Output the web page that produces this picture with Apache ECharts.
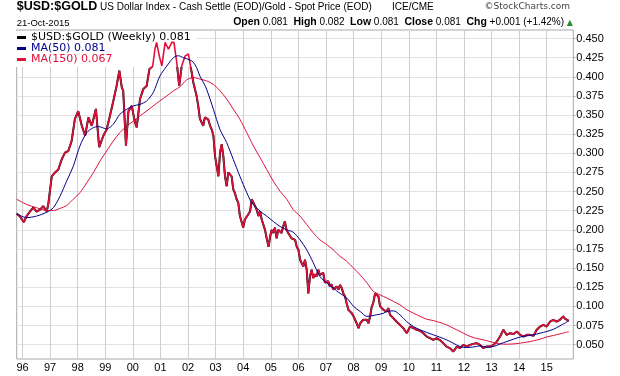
<!DOCTYPE html>
<html><head><meta charset="utf-8">
<script src="https://cdn.jsdelivr.net/npm/echarts@6/dist/echarts.min.js"></script>
<style>html,body{margin:0;padding:0;background:#fff}#c{width:620px;height:376px}</style>
</head><body><div id="c"></div>
<script>
const priceT = [1995.79,1995.90,1996.05,1996.15,1996.27,1996.39,1996.51,1996.63,1996.75,1996.88,1996.94,1997.06,1997.18,1997.30,1997.42,1997.54,1997.66,1997.78,1997.90,1998.02,1998.15,1998.27,1998.39,1998.51,1998.66,1998.78,1998.93,1999.05,1999.17,1999.29,1999.41,1999.51,1999.60,1999.65,1999.75,1999.84,1999.96,2000.08,2000.14,2000.26,2000.38,2000.50,2000.60,2000.72,2000.80,2000.86,2000.96,2001.05,2001.17,2001.29,2001.41,2001.49,2001.59,2001.68,2001.77,2001.89,2002.01,2002.13,2002.19,2002.31,2002.37,2002.43,2002.55,2002.61,2002.73,2002.80,2002.86,2002.92,2002.98,2003.04,2003.10,2003.16,2003.22,2003.28,2003.34,2003.40,2003.46,2003.52,2003.58,2003.64,2003.70,2003.76,2003.82,2003.88,2004.00,2004.06,2004.12,2004.18,2004.25,2004.31,2004.37,2004.43,2004.49,2004.55,2004.61,2004.67,2004.73,2004.79,2004.85,2004.92,2004.98,2005.03,2005.09,2005.15,2005.21,2005.27,2005.33,2005.39,2005.45,2005.51,2005.57,2005.63,2005.69,2005.75,2005.81,2005.88,2005.94,2006.00,2006.06,2006.12,2006.18,2006.24,2006.30,2006.36,2006.42,2006.48,2006.54,2006.60,2006.66,2006.72,2006.78,2006.84,2006.90,2006.96,2007.02,2007.08,2007.14,2007.20,2007.26,2007.33,2007.39,2007.45,2007.51,2007.57,2007.63,2007.69,2007.75,2007.81,2007.87,2007.93,2008.00,2008.05,2008.11,2008.18,2008.24,2008.30,2008.35,2008.42,2008.48,2008.54,2008.60,2008.66,2008.71,2008.78,2008.84,2008.90,2008.96,2009.08,2009.14,2009.20,2009.26,2009.32,2009.44,2009.56,2009.68,2009.80,2009.93,2010.05,2010.17,2010.29,2010.41,2010.53,2010.65,2010.77,2010.89,2011.01,2011.13,2011.25,2011.37,2011.49,2011.61,2011.68,2011.74,2011.86,2011.98,2012.10,2012.22,2012.34,2012.46,2012.58,2012.70,2012.82,2012.95,2013.07,2013.19,2013.31,2013.43,2013.55,2013.67,2013.80,2013.92,2014.04,2014.16,2014.28,2014.40,2014.52,2014.64,2014.76,2014.88,2015.00,2015.12,2015.24,2015.36,2015.48,2015.60,2015.66,2015.72,2015.80];
const priceV = [0.221,0.218,0.210,0.218,0.224,0.229,0.224,0.226,0.231,0.224,0.235,0.270,0.275,0.279,0.292,0.301,0.303,0.316,0.345,0.355,0.336,0.323,0.347,0.336,0.358,0.308,0.323,0.331,0.349,0.368,0.388,0.408,0.386,0.382,0.310,0.355,0.362,0.340,0.334,0.371,0.384,0.388,0.410,0.414,0.436,0.445,0.427,0.414,0.445,0.436,0.445,0.445,0.419,0.388,0.414,0.427,0.430,0.406,0.393,0.375,0.362,0.345,0.336,0.347,0.3445,0.336,0.331,0.323,0.296,0.283,0.270,0.301,0.312,0.296,0.270,0.257,0.275,0.277,0.270,0.253,0.248,0.240,0.2355,0.218,0.203,0.2135,0.212,0.220,0.2244,0.240,0.2355,0.231,0.226,0.218,0.2245,0.2135,0.216,0.200,0.189,0.178,0.192,0.200,0.196,0.203,0.189,0.200,0.201,0.196,0.2045,0.211,0.200,0.196,0.198,0.189,0.189,0.187,0.178,0.174,0.161,0.163,0.152,0.161,0.148,0.117,0.139,0.148,0.137,0.142,0.139,0.148,0.141,0.139,0.144,0.131,0.130,0.133,0.126,0.129,0.122,0.124,0.126,0.122,0.128,0.124,0.117,0.113,0.104,0.0956,0.094,0.0912,0.087,0.087,0.078,0.0716,0.078,0.077,0.0825,0.081,0.0825,0.078,0.087,0.100,0.104,0.117,0.115,0.113,0.100,0.0956,0.097,0.0933,0.0978,0.089,0.0847,0.080,0.0759,0.0716,0.065,0.0737,0.0716,0.0694,0.068,0.065,0.0606,0.0585,0.0563,0.0585,0.056,0.052,0.0475,0.0455,0.041,0.044,0.0475,0.0455,0.0497,0.0475,0.0497,0.051,0.052,0.0497,0.0455,0.0475,0.0475,0.0497,0.054,0.0606,0.0694,0.0628,0.065,0.064,0.0672,0.0628,0.0606,0.0628,0.0628,0.0615,0.0694,0.0737,0.0759,0.0737,0.080,0.0825,0.080,0.0825,0.087,0.084,0.0825,0.081];
const ma50T = [1995.79,1996.15,1996.51,1996.88,1997.12,1997.36,1997.60,1997.84,1998.08,1998.33,1998.57,1998.75,1999.05,1999.29,1999.53,1999.78,2000.02,2000.26,2000.50,2000.74,2000.98,2001.23,2001.47,2001.65,2001.83,2002.07,2002.19,2002.31,2002.43,2002.55,2002.67,2002.92,2003.16,2003.40,2003.64,2003.88,2004.13,2004.31,2004.61,2004.85,2005.09,2005.33,2005.58,2005.81,2006.06,2006.30,2006.54,2006.78,2007.02,2007.26,2007.51,2007.75,2008.00,2008.24,2008.48,2008.66,2008.84,2009.08,2009.20,2009.44,2009.68,2009.93,2010.17,2010.41,2010.65,2010.89,2011.13,2011.37,2011.61,2011.86,2012.10,2012.34,2012.58,2012.82,2013.07,2013.31,2013.55,2013.80,2014.04,2014.28,2014.52,2014.76,2015.00,2015.24,2015.48,2015.80];
const ma50V = [0.221,0.216,0.218,0.223,0.229,0.244,0.2637,0.283,0.3095,0.327,0.3336,0.335,0.332,0.338,0.351,0.3576,0.362,0.364,0.3685,0.3795,0.401,0.414,0.425,0.4275,0.425,0.422,0.419,0.412,0.401,0.393,0.384,0.3576,0.331,0.314,0.292,0.270,0.2485,0.2355,0.2244,0.218,0.211,0.2045,0.200,0.197,0.187,0.174,0.157,0.139,0.131,0.124,0.117,0.111,0.100,0.0933,0.087,0.0877,0.089,0.091,0.0933,0.0942,0.089,0.080,0.0737,0.0694,0.066,0.0628,0.0598,0.0563,0.052,0.0475,0.0462,0.047,0.0484,0.0467,0.0475,0.051,0.054,0.0572,0.060,0.0615,0.0628,0.065,0.0672,0.070,0.0746,0.081];
const ma150T = [1995.79,1996.15,1996.51,1996.88,1997.12,1997.36,1997.60,1997.84,1998.08,1998.33,1998.57,1998.81,1999.05,1999.29,1999.53,1999.78,2000.02,2000.26,2000.50,2000.74,2000.98,2001.23,2001.47,2001.71,2001.95,2002.19,2002.43,2002.67,2002.92,2003.16,2003.40,2003.64,2003.88,2004.13,2004.37,2004.61,2004.85,2005.09,2005.33,2005.58,2005.81,2006.06,2006.30,2006.54,2006.78,2007.02,2007.26,2007.51,2007.75,2008.00,2008.24,2008.48,2008.71,2008.96,2009.20,2009.44,2009.68,2009.93,2010.17,2010.41,2010.65,2010.89,2011.13,2011.37,2011.61,2011.86,2012.10,2012.34,2012.58,2012.82,2013.07,2013.31,2013.55,2013.80,2014.04,2014.28,2014.52,2014.76,2015.00,2015.24,2015.48,2015.80];
const ma150V = [0.240,0.2332,0.229,0.2253,0.2253,0.228,0.2318,0.240,0.2485,0.2616,0.2747,0.290,0.303,0.316,0.327,0.3357,0.342,0.349,0.3554,0.362,0.3685,0.375,0.3816,0.387,0.396,0.399,0.397,0.3947,0.390,0.3816,0.371,0.3576,0.3445,0.327,0.3095,0.2944,0.279,0.2637,0.2506,0.240,0.2266,0.218,0.207,0.196,0.187,0.181,0.174,0.1654,0.159,0.150,0.141,0.131,0.120,0.115,0.111,0.1065,0.102,0.0956,0.0912,0.087,0.0833,0.0815,0.079,0.0759,0.0716,0.0672,0.0628,0.0593,0.0572,0.0553,0.0527,0.051,0.0506,0.051,0.052,0.0533,0.055,0.0572,0.060,0.062,0.0641,0.067];
const yearTicks = [1996,1997,1998,1999,2000,2001,2002,2003,2004,2005,2006,2007,2008,2009,2010,2011,2012,2013,2014,2015];
const priceTicks = [0.050,0.075,0.100,0.125,0.150,0.175,0.200,0.225,0.250,0.275,0.300,0.325,0.350,0.375,0.400,0.425,0.450];
const legendNames = ['$USD:$GOLD (Weekly) 0.081','MA(50) 0.081','MA(150) 0.067'];

const zip = (a, b) => a.map((t, i) => [t, b[i]]);
const RED = '#e0103c', NAVY = '#00008b', MA150C = '#e0103c';

const chart = echarts.init(document.getElementById('c'), null, {renderer: 'canvas'});
chart.setOption({
  animation: false,
  backgroundColor: '#fff',
  grid: {left: 16.7, right: 46.7, top: 30, bottom: 17, show: true, borderColor: '#a8a8a8', borderWidth: 1, containLabel: false},
  xAxis: {
    type: 'value', min: 1995.79, max: 2015.964,
    axisLine: {show: false},
    axisTick: {show: false, customValues: yearTicks},
    axisLabel: {customValues: yearTicks, formatter: v => String(Math.round(v)).slice(2), fontFamily: 'Liberation Sans', fontSize: 11, color: '#000', margin: 3},
    splitLine: {show: true, lineStyle: {color: '#cfcfcf', width: 1}}
  },
  yAxis: {
    type: 'value', position: 'right', min: 0.03126, max: 0.46114,
    axisLine: {show: false},
    axisTick: {show: true, customValues: priceTicks, length: 2, lineStyle: {color: '#999'}},
    axisLabel: {customValues: priceTicks, formatter: v => v.toFixed(3), fontFamily: 'Liberation Sans', fontSize: 11, color: '#000', margin: 3},
    splitLine: {show: true, lineStyle: {color: '#e2e2e2', width: 1}}
  },
  legend: {
    show: true, orient: 'vertical', left: 15, top: 31, padding: [1, 6, 2, 2],
    backgroundColor: '#fff', itemWidth: 9, itemHeight: 3, itemGap: 0, icon: 'rect',
    textStyle: {fontFamily: 'DejaVu Sans', fontSize: 11, lineHeight: 11},
    data: [
      {name: legendNames[0], textStyle: {color: '#000'}},
      {name: legendNames[1], textStyle: {color: NAVY}},
      {name: legendNames[2], textStyle: {color: MA150C}}
    ],
    selectedMode: false
  },
  graphic: [
    {type: 'text', left: 16.7, top: 0, style: {text: '$USD:$GOLD', font: 'bold 12.5px "Liberation Sans"', fill: '#000'}},
    {type: 'text', left: 100, top: 2, style: {text: 'US Dollar Index - Cash Settle (EOD)/Gold - Spot Price (EOD)', font: '10px "Liberation Sans"', fill: '#000'}},
    {type: 'text', left: 392, top: 2, style: {text: 'ICE/CME', font: '10px "Liberation Sans"', fill: '#000'}},
    {type: 'text', right: 50, top: 2, style: {text: '\u00a9StockCharts.com', font: '9px "DejaVu Sans"', fill: '#444'}},
    {type: 'text', left: 16.7, top: 18, style: {text: '21-Oct-2015', font: '9.5px "Liberation Sans"', fill: '#000'}},
    {type: 'text', right: 47, top: 17, style: {
      text: '{b|Open} 0.081  {b|High} 0.082  {b|Low} 0.081  {b|Close} 0.081  {b|Chg} +0.001 (+1.42%) {g|\u25B2}',
      font: '10px "Liberation Sans"', fill: '#000',
      rich: {b: {font: 'bold 10.5px "Liberation Sans"', fill: '#000'}, g: {font: '8px "DejaVu Sans"', fill: '#2e8b2e'}}
    }}
  ],
  series: [
    {name: 'MA(150) 0.067', type: 'line', data: zip(ma150T, ma150V), showSymbol: false, smooth: 0.3, lineStyle: {color: MA150C, width: 1}, itemStyle: {color: MA150C}, z: 2},
    {name: legendNames[0], type: 'line', data: zip(priceT, priceV), showSymbol: false, lineStyle: {color: '#000', width: 2}, itemStyle: {color: '#000'}, z: 3},
    {name: 'price-red', type: 'line', data: zip(priceT, priceV), showSymbol: false, lineStyle: {color: RED, width: 1.6}, itemStyle: {color: RED}, z: 4},
    {name: 'MA(50) 0.081', type: 'line', data: zip(ma50T, ma50V), showSymbol: false, smooth: 0.3, lineStyle: {color: NAVY, width: 1}, itemStyle: {color: NAVY}, z: 5}
  ]
});
</script></body></html>
